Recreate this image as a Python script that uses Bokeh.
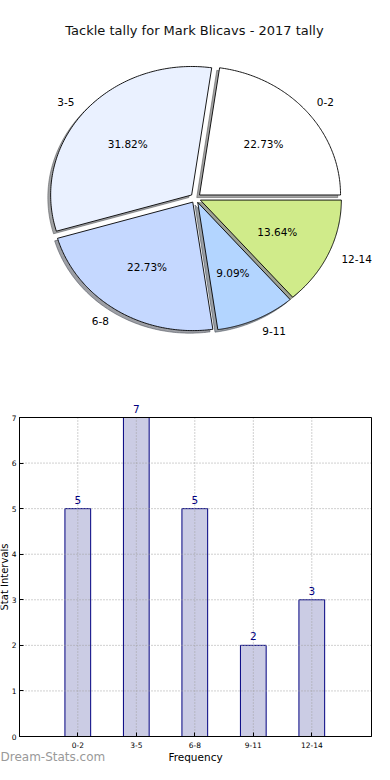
import numpy as np
from bokeh.plotting import figure
from bokeh.models import Range1d, Label, LabelSet, ColumnDataSource, FixedTicker
from bokeh.layouts import column
from bokeh.embed import file_html
from bokeh.resources import INLINE
from bokeh.core.properties import value

# ---------------- data ----------------
chart_title = "Tackle tally for Mark Blicavs - 2017 tally"
categories = ["0-2", "3-5", "6-8", "9-11", "12-14"]
counts = [5, 7, 5, 2, 3]
pie_colors = ["#ffffff", "#eaf1ff", "#c5d8ff", "#b3d5ff", "#d0eb8a"]
y_ticks = [0, 1, 2, 3, 4, 5, 6, 7]
x_axis_label = "Frequency"
y_axis_label = "Stat Intervals"
watermark = "Dream-Stats.com"

FONT = "DejaVu Sans"
W = 374

# ---------------- pie ----------------
PIE_H = 388
CX, CY = 195.1, 197.6      # pie centre in canvas pixels
RX, RY = 141.0, 128.5      # pixels per data unit (radius 1)
EXPLODE = 0.037

pie = figure(width=W, height=PIE_H,
             x_range=Range1d(-CX / RX, (W - CX) / RX),
             y_range=Range1d(-(PIE_H - CY) / RY, CY / RY),
             x_axis_location=None, y_axis_location=None,
             output_backend="svg", toolbar_location=None,
             min_border=0, background_fill_color="white")
pie.grid.visible = False
pie.outline_line_color = None

total = float(sum(counts))
fracs = [c / total for c in counts]
starts = np.concatenate([[0.0], np.cumsum(fracs)[:-1]]) * 2 * np.pi
ends = np.cumsum(fracs) * 2 * np.pi

wx, wy, sx, sy, scol = [], [], [], [], []
pct_x, pct_y, pct_t = [], [], []
lab_l = dict(x=[], y=[], t=[])
lab_r = dict(x=[], y=[], t=[])
for i, (a0, a1) in enumerate(zip(starts, ends)):
    mid = 0.5 * (a0 + a1)
    dx, dy = EXPLODE * np.cos(mid), EXPLODE * np.sin(mid)
    th = np.linspace(a0, a1, 120)
    xs = np.concatenate([[dx], dx + np.cos(th)])
    ys = np.concatenate([[dy], dy + np.sin(th)])
    wx.append(list(xs)); wy.append(list(ys))
    sx.append(list(xs - 0.02)); sy.append(list(ys - 0.02))
    h = pie_colors[i].lstrip("#")
    r, g, b = (int(h[k:k + 2], 16) for k in (0, 2, 4))
    scol.append("#%02x%02x%02x" % (int(r * 0.3), int(g * 0.3), int(b * 0.3)))
    pct_x.append(dx + 0.6 * np.cos(mid)); pct_y.append(dy + 0.6 * np.sin(mid))
    pct_t.append("%.2f%%" % (100 * fracs[i]))
    lx, ly = dx + 1.1 * np.cos(mid), dy + 1.1 * np.sin(mid)
    d = lab_l if np.cos(mid) > 0 else lab_r
    d["x"].append(lx); d["y"].append(ly); d["t"].append(categories[i])

pie.patches(sx, sy, fill_color=scol, fill_alpha=0.5, line_color=scol, line_alpha=0.5, line_width=1)
pie.patches(wx, wy, fill_color=pie_colors, line_color="black", line_width=0.9)
pie.text(pct_x, pct_y, text=pct_t, text_align="center", text_baseline="middle",
         text_font=value(FONT), text_font_size="10.5px", text_color="black")
pie.text(lab_l["x"], lab_l["y"], text=lab_l["t"], text_align="left", text_baseline="middle",
         text_font=value(FONT), text_font_size="10.5px", text_color="black")
pie.text(lab_r["x"], lab_r["y"], text=lab_r["t"], text_align="right", text_baseline="middle",
         text_font=value(FONT), text_font_size="10.5px", text_color="black")
pie.add_layout(Label(x=194, y=PIE_H - 30, x_units="screen", y_units="screen", text=chart_title,
                     text_align="center", text_baseline="middle", text_font=FONT,
                     text_font_size="13px", text_color="#111111"))

# ---------------- bar ----------------
BAR_H = 376
PX_X = 58.5                 # pixels per category step
X0_PX = 77.3                # canvas x of first category
PX_Y = 319.0 / 7            # pixels per unit on the value axis
Y0_PX = 348.0               # canvas y (from top of this figure) of value 0
FRAME_L, FRAME_R = 19.0, 371.0
XL = (FRAME_L - X0_PX) / PX_X
XR = (FRAME_R - X0_PX) / PX_X
YT = max(y_ticks)

idx = list(range(len(categories)))
bar = figure(width=W, height=BAR_H,
             x_range=Range1d(-X0_PX / PX_X, (W - X0_PX) / PX_X),
             y_range=Range1d(-(BAR_H - Y0_PX) / PX_Y, Y0_PX / PX_Y),
             output_backend="svg", toolbar_location=None,
             min_border=0, background_fill_color="white")
bar.outline_line_color = None
bar.grid.visible = False

src = ColumnDataSource(dict(x=idx, top=counts, txt=[str(c) for c in counts]))
bar.vbar(x="x", top="top", width=0.44, source=src, fill_color="#cbcce4",
         line_color="#000080", line_width=1)

# dotted grid (drawn over the bars, limited to the axes box)
bar.segment(x0=[XL] * len(y_ticks), y0=y_ticks, x1=[XR] * len(y_ticks), y1=y_ticks,
            line_color="#a0a0a0", line_dash="1 2", line_width=1)
bar.segment(x0=idx, y0=[0] * len(idx), x1=idx, y1=[YT] * len(idx),
            line_color="#a0a0a0", line_dash="1 2", line_width=1)
# axes box
bar.quad(left=[XL], right=[XR], bottom=[0], top=[YT], fill_color=None,
         line_color="black", line_width=1)

bar.add_layout(LabelSet(x="x", y="top", text="txt", source=src, y_offset=5,
                        text_align="center", text_baseline="bottom", text_color="#000080",
                        text_font=value(FONT), text_font_size="10.5px"))

xa, ya = bar.xaxis[0], bar.yaxis[0]
xa.fixed_location = 0
xa.bounds = (XL, XR)
ya.fixed_location = XL
ya.bounds = (0, YT)
for ax in (xa, ya):
    ax.major_tick_in = 4
    ax.major_tick_out = 0
    ax.minor_tick_line_color = None
    ax.axis_line_color = "black"
    ax.major_label_text_font = FONT
    ax.major_label_text_font_size = "7.5px"
    ax.major_label_text_color = "black"
    ax.major_label_standoff = 3
xa.ticker = FixedTicker(ticks=idx)
xa.major_label_overrides = {i: c for i, c in zip(idx, categories)}
xa.major_label_standoff = 5
ya.ticker = FixedTicker(ticks=y_ticks)

bar.add_layout(Label(x=4, y=YT / 2, x_units="screen", y_units="data", text=y_axis_label,
                     angle=np.pi / 2, text_align="center", text_baseline="middle",
                     text_font=FONT, text_font_size="10px", text_color="black"))
bar.add_layout(Label(x=(XL + XR) / 2, y=8, x_units="data", y_units="screen", text=x_axis_label,
                     text_align="center", text_baseline="middle", text_font=FONT,
                     text_font_size="10.5px", text_color="black"))
bar.add_layout(Label(x=0, y=1, x_units="screen", y_units="screen", text=watermark,
                     text_align="left", text_baseline="bottom", text_font=FONT,
                     text_font_size="12px", text_font_style="normal", text_color="#999999"))

layout = column(pie, bar)
open("out.html", "w").write(file_html(layout, INLINE))
